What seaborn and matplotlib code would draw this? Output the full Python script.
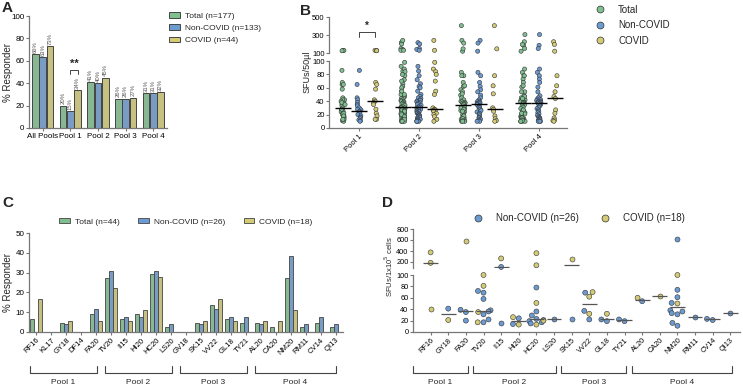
import warnings
import numpy as np
import pandas as pd
import matplotlib
matplotlib.use("Agg")
import matplotlib.pyplot as plt
import matplotlib.transforms as mtransforms
from matplotlib.lines import Line2D
from matplotlib.patches import Patch
import seaborn as sns

warnings.filterwarnings("ignore")
np.random.seed(3)  # only for the strip jitter in panel B

# ---------------- data ----------------
groups = ["Total", "Non-COVID", "COVID"]

# panel A: % responders per pool
a_pools = ["All Pools", "Pool 1", "Pool 2", "Pool 3", "Pool 4"]
a_total = [66, 20, 41, 26, 31]
a_noncovid = [63, 15, 40, 26, 31]
a_covid = [73, 34, 45, 27, 32]

# panel B: SFUs/50ul of responders (Total = Non-COVID + COVID)
b_pools = ["Pool 1", "Pool 2", "Pool 3", "Pool 4"]
b_noncovid = [
    [86, 65, 45, 42, 38, 35, 33, 30, 28, 27, 25, 24, 22, 20, 18, 16, 14, 12, 11, 10],
    [215, 200, 150, 140, 130, 92, 85, 78, 72, 66, 62, 60, 55, 50, 47, 45,
     44, 42, 41, 40, 39, 38, 37, 36, 35, 34, 32, 31, 30, 30, 29, 28, 27, 26, 25, 24,
     23, 22, 21, 20, 19, 18, 17, 16, 15, 14, 13, 12, 12, 11, 10, 10, 10],
    [240, 210, 120, 83, 78, 68, 62, 57, 54, 49, 45,
     42, 40, 39, 38, 37, 37, 36, 35, 33, 31, 30, 28, 26, 24, 22, 20, 18, 16, 15, 13,
     12, 11, 10, 10],
    [305, 185, 150, 88, 83, 78, 73, 68, 61, 54, 48, 45,
     43, 42, 41, 40, 39, 39, 38, 38, 37, 36, 35, 33, 31, 29, 27, 25, 23, 21, 19, 17,
     16, 15, 14, 13, 12, 11, 10, 10, 10],
]
b_covid = [
    [130, 128, 125, 68, 65, 58, 42, 40, 38, 35, 28, 22, 18, 13, 13],
    [240, 130, 98, 88, 84, 80, 70, 55, 50, 30, 28, 27, 27, 26, 25, 22, 20, 17, 13, 10],
    [404, 146, 78, 63, 51, 30, 28, 25, 18, 14, 11, 10],
    [225, 195, 120, 78, 63, 54, 47, 44, 27, 22, 15, 12, 11, 10],
]

# panel C: % responders per peptide
c_peptides = ["RF16", "KL17", "GY18", "DF14", "FA20", "TV20", "II15", "HI20", "HC20", "LS20",
              "GV18", "SK15", "VV22", "GL18", "TY21", "AL20", "CA20", "NM20", "RM11", "CV14", "QI13"]
c_total = [6.8, 0, 4.5, 0, 9.1, 27.3, 6.8, 9.1, 29.5, 2.3, 0, 4.5, 13.6, 6.8, 4.5, 4.5, 2.3, 27.3, 2.3, 4.5, 2.3]
c_noncovid = [0, 0, 3.8, 0, 11.5, 30.8, 7.7, 7.7, 30.8, 3.8, 0, 3.8, 11.5, 7.7, 7.7, 3.8, 0, 38.5, 3.8, 7.7, 3.8]
c_covid = [16.7, 0, 5.6, 0, 5.6, 22.2, 5.6, 11.1, 27.8, 0, 0, 5.6, 16.7, 5.6, 0, 5.6, 5.6, 11.1, 0, 0, 0]
c_pool_sizes = [5, 5, 5, 6]

# panel D: SFUs/1x10^5 cells per peptide
d_peptides = ["RF16", "GY18", "FA20", "TV20", "II15", "HI20", "HC20", "LS20", "SK15",
              "VV22", "GL18", "TY21", "AL20", "CA20", "NM20", "RM11", "CV14", "QI13"]
d_noncovid = [[], [41], [39, 35, 20], [72, 69, 58, 38, 36, 31, 22, 17], [110, 16], [24, 14],
              [78, 36, 29, 23, 21, 19, 17, 15], [23], [23], [69, 37, 22], [22, 19], [22, 19],
              [54], [], [620, 74, 61, 51, 38, 36, 33, 31, 16, 11], [26], [23, 21], [34]]
d_covid = [[375, 185, 40], [21], [580], [100, 81, 35, 17], [265], [26, 13],
           [360, 140, 51, 20, 13], [], [250], [70, 62, 32], [32], [], [60], [63],
           [100, 50], [], [], []]
d_pool_sizes = [3, 5, 4, 6]
pool_names = ["Pool 1", "Pool 2", "Pool 3", "Pool 4"]

# ---------------- style ----------------
sns.set_style("ticks")
plt.rcParams["font.family"] = ["Liberation Sans", "DejaVu Sans"]
plt.rcParams["axes.edgecolor"] = "#777777"
plt.rcParams["axes.linewidth"] = 0.9
plt.rcParams["xtick.color"] = "#777777"
plt.rcParams["ytick.color"] = "#777777"
plt.rcParams["xtick.labelcolor"] = "black"
plt.rcParams["ytick.labelcolor"] = "black"
plt.rcParams["xtick.major.size"] = 2.2
plt.rcParams["ytick.major.size"] = 2.2
plt.rcParams["xtick.major.pad"] = 1.2
plt.rcParams["ytick.major.pad"] = 1.0

GREEN, BLUE, YELLOW = "#80bf90", "#6c9bd2", "#d3cb75"
palette = dict(zip(groups, [GREEN, BLUE, YELLOW]))
EDGE = "#444444"

W, H = 743, 387
fig = plt.figure(figsize=(W / 100, H / 100), dpi=100)


def box(x0, y0, x1, y1):
    return [x0 / W, 1 - y1 / H, (x1 - x0) / W, (y1 - y0) / H]


def unclip_points(ax):
    # let markers sitting on the axis break show fully (skip empty collections,
    # which would otherwise draw one marker at the figure corner)
    for coll in ax.collections:
        if len(coll.get_offsets()) > 0:
            coll.set_clip_on(False)


def pool_brackets(ax, sizes, pad_l, pad_r, left_edge):
    trans = mtransforms.blended_transform_factory(ax.transData, fig.transFigure)
    start = 0
    for k, (n, name) in enumerate(zip(sizes, pool_names)):
        x0 = left_edge if k == 0 else start - pad_l
        x1 = start + n - 1 + pad_r
        ax.plot([x0, x0, x1, x1], [1 - 366 / H, 1 - 373 / H, 1 - 373 / H, 1 - 366 / H],
                transform=trans, color=EDGE, lw=0.8, clip_on=False)
        ax.text((x0 + x1) / 2, 1 - 383 / H, name, transform=trans, ha="center", va="center", fontsize=6)
        start += n


# ---------------- panel A ----------------
axA = fig.add_axes(box(29, 16, 167, 128))
dfA = pd.DataFrame({"pool": a_pools * 3,
                    "group": np.repeat(groups, len(a_pools)),
                    "pct": a_total + a_noncovid + a_covid})
sns.barplot(data=dfA, x="pool", y="pct", hue="group", hue_order=groups, palette=palette,
            edgecolor=EDGE, linewidth=0.7, width=0.8, gap=0.1, legend=False, ax=axA)
for cont in axA.containers:
    axA.bar_label(cont, fmt="{:.0f}%", rotation=90, fontsize=4.3, padding=1, color="#555555")
axA.set_ylim(0, 100)
axA.set_yticks(range(0, 101, 20))
axA.set_xlim(-0.5, 4.5)
axA.set_xlabel("")
axA.set_ylabel("")
axA.tick_params(labelsize=5.8)
sns.despine(ax=axA)
axA.plot([1, 1, 1.267, 1.267], [48, 52, 52, 48], color=EDGE, lw=0.7)
axA.text(1.133, 53, "**", ha="center", va="bottom", fontsize=8, fontweight="bold")
fig.text(8 / W, 1 - 72 / H, "% Responder", rotation=90, ha="center", va="center", fontsize=7)
fig.legend(handles=[Patch(facecolor=palette[g], edgecolor=EDGE, lw=0.7, label=l)
                    for g, l in zip(groups, ["Total (n=177)", "Non-COVID (n=133)", "COVID (n=44)"])],
           loc="upper left", bbox_to_anchor=(166 / W, 1 - 9 / H), frameon=False, fontsize=6,
           handlelength=1.3, handleheight=0.6, labelspacing=0.55, handletextpad=0.6, borderaxespad=0)

# ---------------- panel B ----------------
rows = []
for pool, nc, cv in zip(b_pools, b_noncovid, b_covid):
    rows += [(pool, "Total", v) for v in nc + cv]
    rows += [(pool, "Non-COVID", v) for v in nc]
    rows += [(pool, "COVID", v) for v in cv]
dfB = pd.DataFrame(rows, columns=["pool", "group", "sfu"])

axBt = fig.add_axes(box(329, 17, 567, 53))
axBb = fig.add_axes(box(329, 61, 567, 128))
strip_kw = dict(x="pool", y="sfu", hue="group", order=b_pools, hue_order=groups, palette=palette,
                dodge=True, jitter=0.11, size=3.0, edgecolor="#333333", linewidth=0.4, legend=False)
sns.stripplot(data=dfB[dfB.sfu > 100], ax=axBt, **strip_kw)
sns.stripplot(data=dfB[dfB.sfu <= 100], ax=axBb, **strip_kw)
for ax in (axBt, axBb):
    unclip_points(ax)
    ax.set_xlim(-0.5, 3.47)
    ax.set_xlabel("")
    ax.set_ylabel("")
    ax.tick_params(labelsize=5.5)
axBt.set_ylim(100, 500)
axBt.set_yticks([100, 300, 500])
axBt.set_xticks([])
sns.despine(ax=axBt, bottom=True)
axBb.set_ylim(0, 100)
axBb.set_yticks(range(0, 101, 20))
axBb.set_xticks(range(len(b_pools)))
axBb.set_xticklabels(b_pools, rotation=45, ha="right", rotation_mode="anchor")
sns.despine(ax=axBb)
med_b = dfB.groupby(["pool", "group"]).sfu.median()
for i, pool in enumerate(b_pools):
    for j, g in enumerate(groups):
        x = i + (j - 1) * 0.2667
        axBb.hlines(med_b[(pool, g)], x - 0.13, x + 0.13, color="black", lw=1.0, zorder=5)
axBt.plot([0, 0, 0.267, 0.267], [280, 335, 335, 280], color=EDGE, lw=0.7)
axBt.text(0.133, 350, "*", ha="center", va="bottom", fontsize=7, fontweight="bold")
fig.text(307 / W, 1 - 72 / H, "SFUs/50µl", rotation=90, ha="center", va="center", fontsize=6.5)
fig.legend(handles=[Line2D([], [], ls="", marker="o", markersize=5, markerfacecolor=palette[g],
                           markeredgecolor="#333333", markeredgewidth=0.5, label=g) for g in groups],
           loc="upper left", bbox_to_anchor=(585 / W, 1.0), frameon=False, fontsize=7,
           labelspacing=0.55, handletextpad=0.9, borderaxespad=0.1)

# ---------------- panel C ----------------
axC = fig.add_axes(box(29, 233, 343, 332))
dfC = pd.DataFrame({"peptide": c_peptides * 3,
                    "group": np.repeat(groups, len(c_peptides)),
                    "pct": c_total + c_noncovid + c_covid})
sns.barplot(data=dfC, x="peptide", y="pct", hue="group", order=c_peptides, hue_order=groups,
            palette=palette, edgecolor=EDGE, linewidth=0.6, width=0.8, legend=False, ax=axC)
axC.set_ylim(0, 50)
axC.set_yticks(range(0, 51, 10))
axC.set_xlim(-0.5, 20.5)
axC.set_xlabel("")
axC.set_ylabel("")
axC.tick_params(axis="y", labelsize=5.8)
axC.set_xticks(range(len(c_peptides)))
axC.set_xticklabels(c_peptides, rotation=45, ha="right", rotation_mode="anchor", fontsize=5.5)
sns.despine(ax=axC)
fig.text(8 / W, 1 - 282 / H, "% Responder", rotation=90, ha="center", va="center", fontsize=7)
axC.legend(handles=[Patch(facecolor=palette[g], edgecolor=EDGE, lw=0.6, label=l)
                    for g, l in zip(groups, ["Total (n=44)", "Non-COVID (n=26)", "COVID (n=18)"])],
           loc="lower center", bbox_to_anchor=(0.5, 1.0), ncol=3, frameon=False, fontsize=6,
           handlelength=1.3, handleheight=0.6, columnspacing=2.2, handletextpad=0.6)
pool_brackets(axC, c_pool_sizes, 0.4, 0.05, -0.45)

# ---------------- panel D ----------------
rows = []
for pep, nc, cv in zip(d_peptides, d_noncovid, d_covid):
    rows += [(pep, "Non-COVID", v) for v in nc]
    rows += [(pep, "COVID", v) for v in cv]
dfD = pd.DataFrame(rows, columns=["peptide", "group", "sfu"])

axDt = fig.add_axes(box(413, 229, 740, 267.5))
axDb = fig.add_axes(box(413, 275, 740, 332))
swarm_kw = dict(x="peptide", y="sfu", hue="group", order=d_peptides, hue_order=groups[1:],
                palette=palette, size=3.6, edgecolor="#333333", linewidth=0.4, legend=False)
sns.swarmplot(data=dfD[dfD.sfu > 100], ax=axDt, **swarm_kw)
sns.swarmplot(data=dfD[dfD.sfu <= 100], ax=axDb, **swarm_kw)
for ax in (axDt, axDb):
    unclip_points(ax)
    ax.set_xlim(-1.0, 17.55)
    ax.set_xlabel("")
    ax.set_ylabel("")
    ax.tick_params(labelsize=5.3)
axDt.set_ylim(100, 800)
axDt.set_yticks([200, 400, 600, 800])
axDt.set_xticks([])
sns.despine(ax=axDt, bottom=True)
axDb.set_ylim(0, 100)
axDb.set_yticks(range(0, 101, 20))
axDb.set_xticks(range(len(d_peptides)))
axDb.set_xticklabels(d_peptides, rotation=45, ha="right", rotation_mode="anchor")
sns.despine(ax=axDb)
med_d = dfD.groupby("peptide").sfu.median()
for i, pep in enumerate(d_peptides):
    m = med_d[pep]
    ax = axDt if m > 100 else axDb
    ax.hlines(m, i - 0.42, i + 0.42, color="#555555", lw=0.9, zorder=5)
fig.text(389 / W, 1 - 267 / H, "SFUs/1x10$^5$ cells", rotation=90, ha="center", va="center", fontsize=5.5)
axDt.legend(handles=[Line2D([], [], ls="", marker="o", markersize=5, markerfacecolor=palette[g],
                            markeredgecolor="#333333", markeredgewidth=0.5, label=l)
                     for g, l in zip(groups[1:], ["Non-COVID (n=26)", "COVID (n=18)"])],
            loc="lower center", bbox_to_anchor=(0.5, 1.05), ncol=2, frameon=False, fontsize=7,
            columnspacing=1.6, handletextpad=0.9, borderaxespad=0)
pool_brackets(axDb, d_pool_sizes, 0.6, 0.1, -1.0)

# ---------------- panel letters ----------------
for x, y, s in [(2, 1, "A"), (300, 4, "B"), (2, 196, "C"), (382, 196, "D")]:
    fig.text(x / W, 1 - y / H, s, ha="left", va="top", fontsize=11, fontweight="bold")

fig.savefig("out.png", dpi=100)
